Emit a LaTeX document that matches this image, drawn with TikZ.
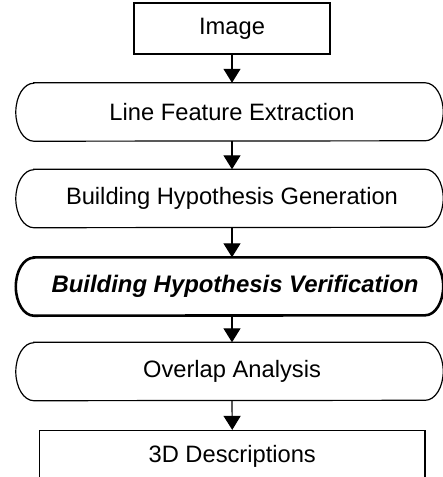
\documentclass[tikz,border=0pt]{standalone}
\usepackage{fontspec}
\setmainfont{Liberation Sans}
\usetikzlibrary{arrows.meta}
% outline of a pill spanning x = 16..443 at the height of node #1 (node centre at x = 232 + #3)
\newcommand\pilloutline[3]{%
  \draw[#2] ([xshift=15.5pt-#3]#1.north west) -- ([xshift=-20.5pt-#3]#1.north east)
    arc[start angle=90,end angle=-90,x radius=18pt,y radius=29pt]
    -- ([xshift=15.5pt-#3]#1.south west)
    arc[start angle=270,end angle=90,x radius=18pt,y radius=29pt] -- cycle;}
\begin{document}
\begin{tikzpicture}[x=1pt,y=-1pt,
  lbl/.style={font=\fontsize{23.7}{28}\selectfont, inner sep=0pt},
  boxnode/.style={lbl, draw, line width=1.2pt, minimum height=51pt},
  pill/.style={lbl, minimum width=427pt, minimum height=58pt},
  thinline/.style={line width=1.2pt},
  thickline/.style={line width=2.6pt},
  flow/.style={line width=1.2pt, -{Triangle[width=17pt,length=14pt]}}]
\useasboundingbox (0,0) rectangle (443,477);
\clip (0,0) rectangle (443,477);
\node[boxnode, minimum width=196pt] (img) at (232,28.5) {Image};
\node[pill] (lfe) at (232,112) {Line Feature Extraction};
\node[pill] (bhg) at (232,198.5) {Building Hypothesis Generation};
\node[pill] (bhv) at (235,286.5) {\fontsize{23.9}{28}\selectfont\bfseries\itshape Building Hypothesis Verification};
\node[pill] (oa) at (232,371.5) {Overlap Analysis};
\node[boxnode, minimum width=385.5pt] (desc) at (232.25,456) {3D Descriptions};
\pilloutline{lfe}{thinline}{0pt}
\pilloutline{bhg}{thinline}{0pt}
\pilloutline{bhv}{thickline}{3pt}
\pilloutline{oa}{thinline}{0pt}
\draw[flow] (img.south) -- (img.south |- lfe.north);
\draw[flow] (img.south |- lfe.south) -- (img.south |- bhg.north);
\draw[flow] (img.south |- bhg.south) -- (img.south |- bhv.north);
\draw[flow] (img.south |- bhv.south) -- (img.south |- oa.north);
\draw[flow] (img.south |- oa.south) -- (desc.north);
\end{tikzpicture}
\end{document}
